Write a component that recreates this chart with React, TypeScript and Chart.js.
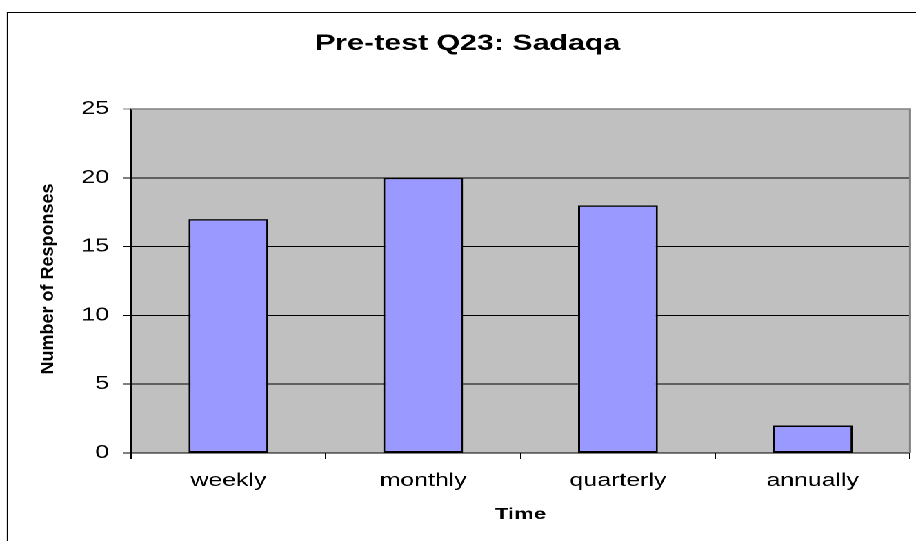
import React, { useEffect, useRef } from "react";
import { Chart, registerables } from "chart.js";

Chart.register(...registerables);

const categories = ["weekly", "monthly", "quarterly", "annually"];
const responses = [17, 20, 18, 2];
const yMin = 0;
const yMax = 25;
const yStep = 5;
const chartTitle = "Pre-test Q23: Sadaqa";
const xTitle = "Time";
const yTitle = "Number of Responses";

const STRETCH = 916 / 664;
const FONT = "Arial, 'Liberation Sans', sans-serif";

export default function App() {
  const ref = useRef<HTMLCanvasElement>(null);
  useEffect(() => {
    if (!ref.current) return;
    const decor = {
      id: "decor",
      beforeDraw(chart: any) {
        const { ctx, chartArea: a } = chart;
        ctx.save();
        ctx.fillStyle = "#C0C0C0";
        ctx.fillRect(a.left, a.top, a.right - a.left, a.bottom - a.top);
        ctx.restore();
      },
      beforeDatasetsDraw(chart: any) {
        const { ctx, chartArea: a } = chart;
        ctx.save();
        ctx.strokeStyle = "#808080";
        ctx.lineWidth = 1.5;
        ctx.beginPath();
        ctx.moveTo(a.left, a.top);
        ctx.lineTo(a.right, a.top);
        ctx.lineTo(a.right, a.bottom);
        ctx.stroke();
        ctx.restore();
      },
      afterDraw(chart: any) {
        const { ctx, chartArea: a, width, height } = chart;
        ctx.save();
        // outer chart border
        ctx.strokeStyle = "#000";
        ctx.lineWidth = 1;
        const bx = 7.5 / STRETCH;
        ctx.beginPath();
        ctx.moveTo(bx, height);
        ctx.lineTo(bx, 12.5);
        ctx.lineTo(width, 12.5);
        ctx.stroke();
        // y axis title (compensated for horizontal stretch)
        ctx.fillStyle = "#000";
        ctx.font = `bold 18px ${FONT}`;
        ctx.textAlign = "center";
        ctx.textBaseline = "alphabetic";
        ctx.translate(53.3 / STRETCH, (a.top + a.bottom) / 2 - 2);
        ctx.rotate(-Math.PI / 2);
        ctx.scale(1, 1 / STRETCH);
        ctx.fillText(yTitle, 0, 0);
        ctx.restore();
      },
    };
    const chart = new Chart(ref.current, {
      type: "bar",
      data: {
        labels: categories,
        datasets: [
          {
            data: responses,
            backgroundColor: "#9999FF",
            borderColor: "#000",
            borderWidth: 1.5,
            borderSkipped: false,
            barPercentage: 0.41,
            categoryPercentage: 1,
          },
        ],
      },
      options: {
        animation: false,
        responsive: true,
        maintainAspectRatio: false,
        devicePixelRatio: 2,
        layout: { padding: { left: 18.3, right: 4.3, top: 0, bottom: 0 } },
        plugins: {
          legend: { display: false },
          tooltip: { enabled: false },
          title: {
            display: true,
            text: chartTitle,
            color: "#000",
            font: { family: FONT, size: 22, weight: "bold" },
            padding: { top: 30.9, bottom: 51.7 },
          },
        },
        scales: {
          x: {
            offset: true,
            grid: {
              offset: true,
              drawOnChartArea: false,
              drawTicks: true,
              tickLength: 6,
              color: "#000",
            },
            border: { display: true, color: "#000", width: 1 },
            ticks: {
              color: "#000",
              font: { family: FONT, size: 18 },
              padding: 11,
            },
            title: {
              display: true,
              text: xTitle,
              color: "#000",
              font: { family: FONT, size: 16, weight: "bold" },
              padding: { top: 4, bottom: 16.9 },
            },
            afterFit(scale: any) {
              scale.height = 88;
            },
          },
          y: {
            min: yMin,
            max: yMax,
            ticks: {
              stepSize: yStep,
              color: "#000",
              font: { family: FONT, size: 18 },
              padding: 10.4,
            },
            grid: {
              color: (c: any) => (c.tick && c.tick.value === yMax ? "#808080" : "#000"),
              lineWidth: 1,
              tickLength: 5.6,
            },
            border: { display: true, color: "#000", width: 1 },
            afterFit(scale: any) {
              scale.width = 76.7;
            },
          },
        },
      },
      plugins: [decor],
    });
    return () => chart.destroy();
  }, []);
  return (
    <div
      style={{
        position: "absolute",
        left: 0,
        top: 0,
        width: 664,
        height: 541,
        transform: `scaleX(${STRETCH})`,
        transformOrigin: "0 0",
        background: "#fff",
      }}
    >
      <canvas ref={ref} />
    </div>
  );
}
